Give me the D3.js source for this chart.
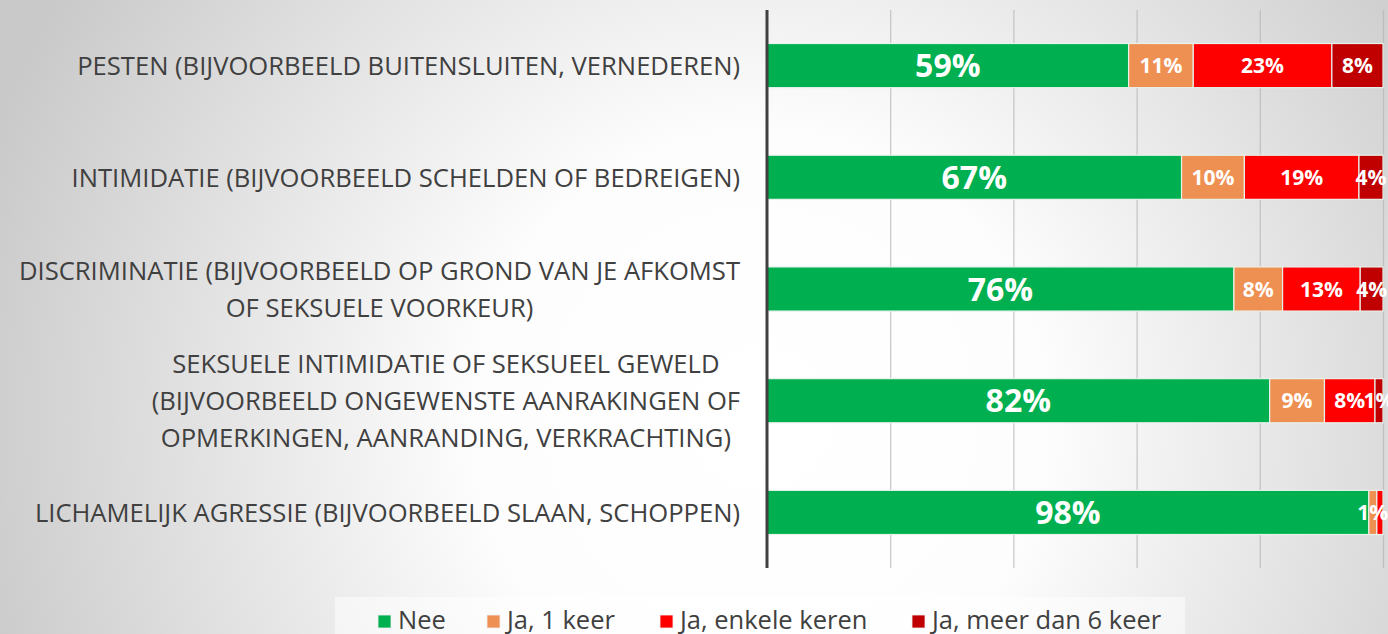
<!DOCTYPE html>
<html>
<head>
<meta charset="utf-8">
<script src="https://cdn.jsdelivr.net/npm/d3@7"></script>
<style>
  html, body { margin: 0; padding: 0; background: #fff; }
  svg { display: block; }
  text { font-family: "Open Sans", "Noto Sans", sans-serif; }
</style>
</head>
<body>
<div id="chart"></div>
<script>
const categories = [
  "PESTEN (BIJVOORBEELD BUITENSLUITEN, VERNEDEREN)",
  "INTIMIDATIE (BIJVOORBEELD SCHELDEN OF BEDREIGEN)",
  "DISCRIMINATIE (BIJVOORBEELD OP GROND VAN JE AFKOMST|OF SEKSUELE VOORKEUR)",
  "SEKSUELE INTIMIDATIE OF SEKSUEEL GEWELD|(BIJVOORBEELD ONGEWENSTE AANRAKINGEN OF|OPMERKINGEN, AANRANDING, VERKRACHTING)",
  "LICHAMELIJK AGRESSIE (BIJVOORBEELD SLAAN, SCHOPPEN)"
];
const seriesNames = ["Nee", "Ja, 1 keer", "Ja, enkele keren", "Ja, meer dan 6 keer"];
const nee      = [58.7, 67.3, 75.8, 81.6, 97.7];
const jaEen    = [10.5, 10.2, 7.9, 8.9, 1.3];
const jaEnkele = [22.5, 18.6, 12.6, 8.2, 1.0];
const jaMeer   = [8.3, 3.9, 3.7, 1.3, 0];
const xTicks = [0, 20, 40, 60, 80, 100];

const colors = ["#00b050", "#ee9051", "#ff0000", "#c00000"];

const W = 1388, H = 634;
const margin = { top: 10, right: 5, bottom: 66, left: 767 };
const width = W - margin.left - margin.right;
const height = H - margin.top - margin.bottom;

const svg = d3.select("#chart").append("svg")
  .attr("width", W)
  .attr("height", H);

// background gradient
const defs = svg.append("defs");
const grad = defs.append("radialGradient")
  .attr("id", "bg")
  .attr("gradientUnits", "userSpaceOnUse")
  .attr("cx", 760).attr("cy", 420).attr("r", 820);
grad.append("stop").attr("offset", "0%").attr("stop-color", "#ffffff");
grad.append("stop").attr("offset", "35%").attr("stop-color", "#fdfdfd");
grad.append("stop").attr("offset", "100%").attr("stop-color", "#c9c9c9");

svg.append("rect").attr("width", W).attr("height", H).attr("fill", "url(#bg)");

const data = categories.map((c, i) => ({
  cat: c,
  s0: nee[i], s1: jaEen[i], s2: jaEnkele[i], s3: jaMeer[i]
}));
const keys = ["s0", "s1", "s2", "s3"];
const stacked = d3.stack().keys(keys)(data);

const x = d3.scaleLinear().domain([0, 100]).range([0, width]);
const y = d3.scaleBand()
  .domain(categories)
  .range([0, height])
  .paddingInner(0.605)
  .paddingOuter(0.3);

const g = svg.append("g").attr("transform", `translate(${margin.left},${margin.top})`);

// gridlines
g.append("g")
  .call(d3.axisBottom(x).tickValues(xTicks).tickSize(height).tickFormat(""))
  .call(a => a.select(".domain").remove())
  .call(a => a.selectAll(".tick line").attr("stroke", "#b8b8b8").attr("stroke-width", 1.2).attr("stroke-opacity", 0.8))
  .call(a => a.selectAll(".tick").filter(d => d === 0).remove());

// bars
const layer = g.selectAll(".layer")
  .data(stacked)
  .enter().append("g")
  .attr("class", "layer")
  .attr("fill", (d, i) => colors[i]);

layer.selectAll("rect")
  .data(d => d)
  .enter().append("rect")
  .attr("x", d => x(d[0]))
  .attr("y", d => y(d.data.cat))
  .attr("width", d => Math.max(0, x(d[1]) - x(d[0])))
  .attr("height", y.bandwidth())
  .attr("stroke", "#e8f2ec")
  .attr("stroke-width", 1.2);

// value labels, drawn above all bars
const labels = g.append("g");
stacked.forEach((s, si) => {
  labels.append("g").selectAll("text")
    .data(s.filter(d => x(d[1]) - x(d[0]) >= 7))
    .enter().append("text")
    .attr("x", d => (x(d[0]) + x(d[1])) / 2)
    .attr("y", d => y(d.data.cat) + y.bandwidth() / 2)
    .attr("dy", "0.36em")
    .attr("text-anchor", "middle")
    .attr("fill", "#fff")
    .attr("font-weight", "bold")
    .attr("font-size", si === 0 ? 32 : 21)
    .text(d => Math.round(d[1] - d[0]) + "%");
});

// y axis line
g.append("line")
  .attr("x1", 0).attr("x2", 0)
  .attr("y1", 0).attr("y2", height)
  .attr("stroke", "#404040")
  .attr("stroke-width", 3);

// category labels (centered lines, block right-aligned)
const lineH = 37;
const labelRight = 740;
categories.forEach(c => {
  const lines = c.split("|");
  const t = svg.append("text")
    .attr("fill", "#404040")
    .attr("font-size", 25.6)
    .attr("text-anchor", "middle");
  const cy = margin.top + y(c) + y.bandwidth() / 2;
  const spans = lines.map((l, i) => t.append("tspan")
    .attr("y", cy + (i - (lines.length - 1) / 2) * lineH)
    .attr("dy", "0.36em")
    .text(l));
  const maxW = d3.max(spans, s => s.node().getComputedTextLength());
  spans.forEach(s => s.attr("x", labelRight - maxW / 2));
});

// legend
svg.append("rect")
  .attr("x", 335).attr("y", 597)
  .attr("width", 850).attr("height", 40)
  .attr("fill", "#ffffff").attr("fill-opacity", 0.5);

const legendX = [378, 487, 660, 912];
const leg = svg.append("g");
seriesNames.forEach((n, i) => {
  leg.append("rect")
    .attr("x", legendX[i]).attr("y", 615)
    .attr("width", 13).attr("height", 13)
    .attr("fill", colors[i])
    .attr("stroke", "#f0f0f0").attr("stroke-width", 0.8);
  leg.append("text")
    .attr("x", legendX[i] + 20).attr("y", 620)
    .attr("dy", "0.36em")
    .attr("fill", "#404040")
    .attr("font-size", 25.5)
    .text(n);
});
</script>
</body>
</html>
